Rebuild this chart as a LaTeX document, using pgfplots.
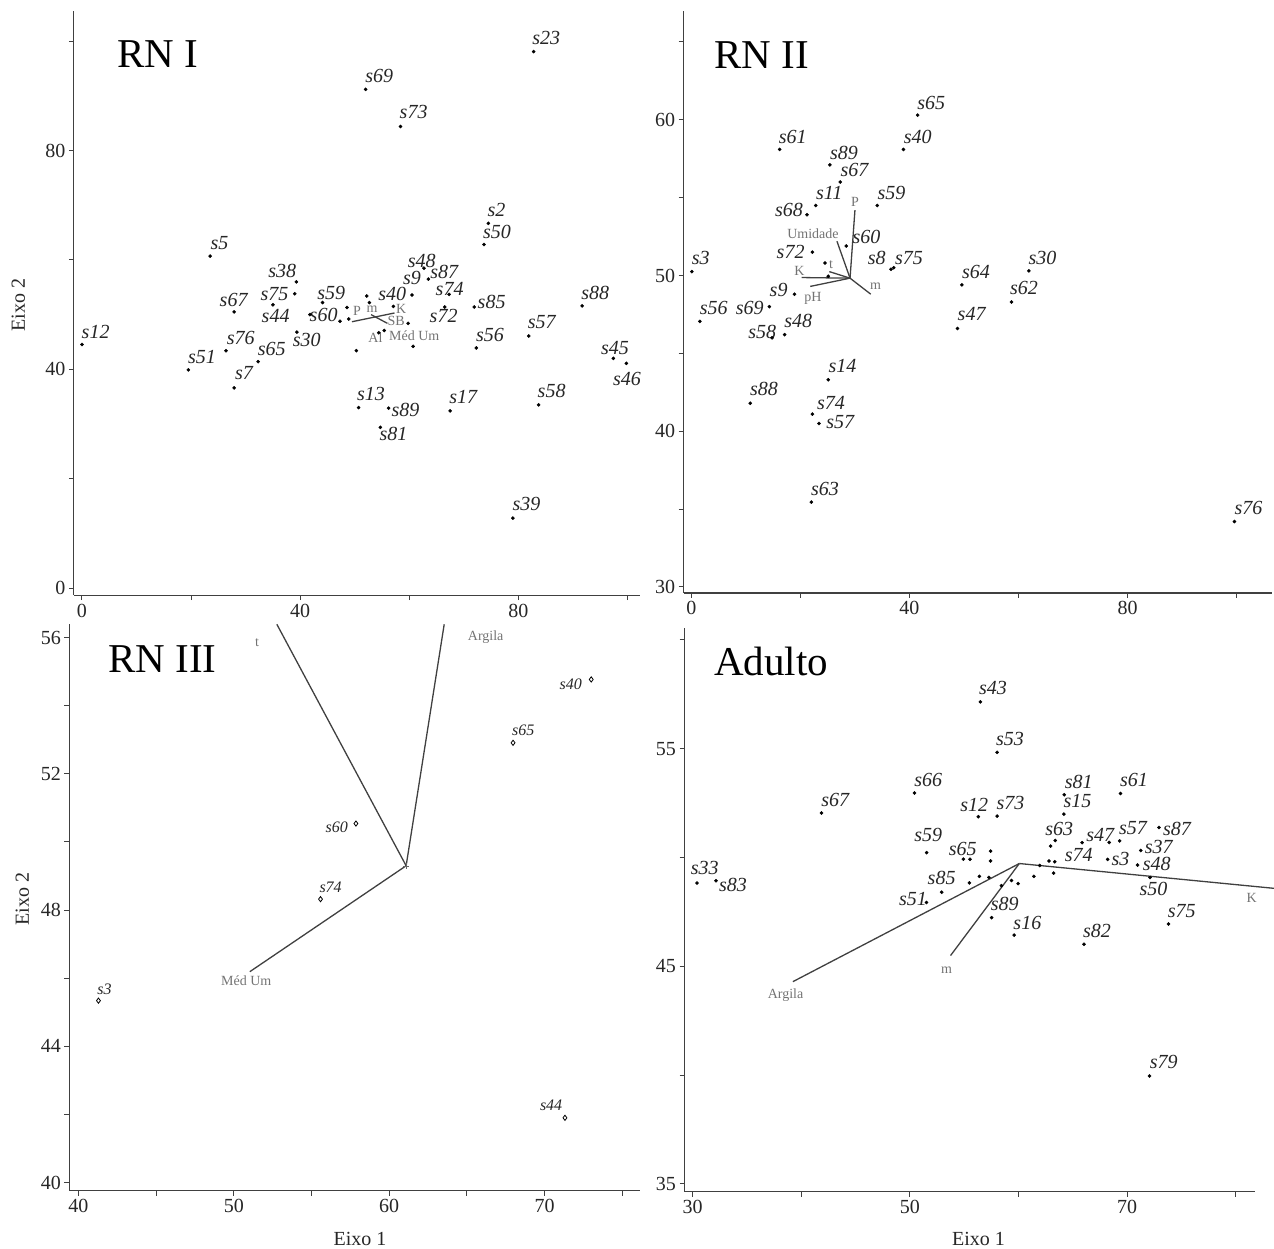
\documentclass[border=0pt]{standalone}
\usepackage{fontspec}
\setmainfont{Liberation Serif}
\usepackage{pgfplots}
\pgfplotsset{compat=1.18}
\begin{document}
\begin{tikzpicture}[x=1pt,y=1pt]
\path[use as bounding box] (0,0) rectangle (1274,1249);
\pgfplotsset{
  panel/.style={scale only axis, axis lines=left, axis line style={-, line width=1.1pt, black!75},
    enlargelimits=false, clip=false, tick align=outside, major tick length=5pt,
    tick style={line width=1pt, black!75},
    tick label style={font=\fontsize{20}{22}\selectfont, text=black!85},
    /pgf/number format/assume math mode=true, anchor=south west, scaled ticks=false},
  dots/.style={only marks, mark=*, mark size=1.6pt, black},
  vec/.style={no marks, line width=1.3pt, black!75},
}
\tikzset{
  sl/.style={font=\fontsize{20}{22}\selectfont\itshape, text=black!85, inner sep=0pt},
  sls/.style={font=\fontsize{16}{18}\selectfont\itshape, text=black!85, inner sep=0pt},
  vl/.style={font=\fontsize{14}{16}\selectfont, text=black!55, inner sep=0pt},
}

% ---------------- RN I ----------------
\begin{axis}[panel, at={(73.8pt,653.8pt)}, width=566.2pt, height=584.1pt,
  xmin=-1.5, xmax=102.3, ymin=-1.3, ymax=105.5,
  xtick={0,20,40,60,80,100}, xticklabels={0,,40,,80,},
  ytick={0,20,40,60,80,100}, yticklabels={0,,40,,80,}]
\addplot[vec] coordinates {(49.5,48.7) (57.3,50.3)};
\addplot[vec] coordinates {(53.0,50.0) (56.0,48.4)};
\addplot[dots] coordinates {
 (0.0,44.55) (82.8,98.1) (52.0,91.2) (58.4,84.4) (74.5,66.7) (73.7,62.8) (23.5,60.7)
 (39.3,56.0) (39.0,53.8) (35.0,51.8) (27.9,50.5) (41.8,50.0) (44.1,52.2) (47.3,48.8)
 (48.6,51.3) (48.9,49.2) (52.2,53.4) (52.7,52.2) (57.1,51.5) (60.5,53.6) (59.8,48.4)
 (55.4,47.1) (54.4,46.7) (50.3,43.4) (60.7,44.2) (62.7,58.5) (63.5,56.5) (67.3,53.7)
 (66.5,51.4) (71.9,51.4) (72.3,43.9) (81.9,46.1) (91.7,51.6) (97.4,42.0) (99.8,41.1)
 (39.4,46.8) (26.4,43.4) (32.3,41.4) (19.5,39.9) (27.9,36.6) (50.7,33.0) (56.2,32.9)
 (54.7,29.4) (67.5,32.4) (83.7,33.5) (79.0,12.8)};
\node[sl] at (axis cs:2.5,46.9) {s12};
\node[sl] at (axis cs:85.1,100.6) {s23};
\node[sl] at (axis cs:54.5,93.7) {s69};
\node[sl] at (axis cs:60.8,87.0) {s73};
\node[sl] at (axis cs:76.0,69.2) {s2};
\node[sl] at (axis cs:76.1,65.2) {s50};
\node[sl] at (axis cs:25.2,63.1) {s5};
\node[sl] at (axis cs:36.7,58.0) {s38};
\node[sl] at (axis cs:35.3,53.8) {s75};
\node[sl] at (axis cs:35.5,49.8) {s44};
\node[sl] at (axis cs:27.8,52.7) {s67};
\node[sl] at (axis cs:45.7,54.0) {s59};
\node[sl] at (axis cs:44.3,50.0) {s60};
\node[sl] at (axis cs:56.9,53.8) {s40};
\node[sl] at (axis cs:62.3,59.9) {s48};
\node[sl] at (axis cs:60.5,56.7) {s9};
\node[sl] at (axis cs:66.4,57.8) {s87};
\node[sl] at (axis cs:67.4,54.7) {s74};
\node[sl] at (axis cs:66.3,49.8) {s72};
\node[sl] at (axis cs:75.1,52.4) {s85};
\node[sl] at (axis cs:74.8,46.2) {s56};
\node[sl] at (axis cs:84.3,48.6) {s57};
\node[sl] at (axis cs:94.1,54.0) {s88};
\node[sl] at (axis cs:97.7,43.9) {s45};
\node[sl] at (axis cs:99.9,38.2) {s46};
\node[sl] at (axis cs:41.2,45.3) {s30};
\node[sl] at (axis cs:29.1,45.8) {s76};
\node[sl] at (axis cs:34.8,43.7) {s65};
\node[sl] at (axis cs:22.0,42.2) {s51};
\node[sl] at (axis cs:29.7,39.3) {s7};
\node[sl] at (axis cs:53.0,35.5) {s13};
\node[sl] at (axis cs:59.3,32.6) {s89};
\node[sl] at (axis cs:57.1,28.1) {s81};
\node[sl] at (axis cs:69.9,35.0) {s17};
\node[sl] at (axis cs:86.1,36.1) {s58};
\node[sl] at (axis cs:81.5,15.4) {s39};
\node[vl] at (axis cs:50.4,50.7) {P};
\node[vl] at (axis cs:53.2,50.9) {m};
\node[vl] at (axis cs:58.5,51.0) {K};
\node[vl] at (axis cs:57.6,48.9) {SB};
\node[vl] at (axis cs:53.8,45.7) {Al};
\node[vl] at (axis cs:60.9,46.1) {Méd Um};
\end{axis}

% ---------------- RN II ----------------
\begin{axis}[panel, at={(683.7pt,656pt)}, width=588.3pt, height=582pt,
  xmin=-1.41, xmax=106.5, ymin=29.61, ymax=66.99,
  xtick={0,20,40,60,80,100}, xticklabels={0,,40,,80,},
  ytick={30,35,40,45,50,55,60,65}, yticklabels={30,,40,,50,,60,}]
\addplot[vec] coordinates {(29.1,49.83) (30.0,54.2)};
\addplot[vec] coordinates {(29.1,49.83) (26.7,52.2)};
\addplot[vec] coordinates {(29.1,49.83) (20.2,49.87)};
\addplot[vec] coordinates {(29.1,49.83) (21.8,49.3)};
\addplot[vec] coordinates {(29.1,49.83) (32.9,48.8)};
\addplot[vec] coordinates {(29.1,49.83) (25.3,50.25)};
\addplot[dots] coordinates {
 (0.07,50.25) (1.55,47.05) (41.5,60.3) (38.9,58.1) (16.2,58.1) (25.4,57.1) (27.3,56.0)
 (22.8,54.5) (21.2,53.9) (34.1,54.5) (28.4,51.9) (22.2,51.5) (24.5,50.8) (25.1,49.95)
 (36.6,50.4) (37.1,50.5) (18.9,48.8) (14.3,48.0) (14.8,46.0) (17.1,46.2) (49.6,49.4)
 (61.9,50.3) (58.7,48.3) (48.8,46.6) (25.1,43.3) (10.8,41.8) (22.2,41.1) (23.4,40.5)
 (22.0,35.45) (99.6,34.2)};
\node[sl] at (axis cs:1.7,51.1) {s3};
\node[sl] at (axis cs:4.1,47.9) {s56};
\node[sl] at (axis cs:44.0,61.1) {s65};
\node[sl] at (axis cs:41.5,58.9) {s40};
\node[sl] at (axis cs:18.6,58.9) {s61};
\node[sl] at (axis cs:28.0,57.9) {s89};
\node[sl] at (axis cs:29.9,56.8) {s67};
\node[sl] at (axis cs:25.3,55.3) {s11};
\node[sl] at (axis cs:17.9,54.2) {s68};
\node[sl] at (axis cs:36.7,55.3) {s59};
\node[sl] at (axis cs:32.1,52.5) {s60};
\node[sl] at (axis cs:18.2,51.5) {s72};
\node[sl] at (axis cs:34.0,51.1) {s8};
\node[sl] at (axis cs:39.9,51.1) {s75};
\node[sl] at (axis cs:16.0,49.1) {s9};
\node[sl] at (axis cs:10.7,47.9) {s69};
\node[sl] at (axis cs:13.0,46.4) {s58};
\node[sl] at (axis cs:19.6,47.05) {s48};
\node[sl] at (axis cs:52.2,50.25) {s64};
\node[sl] at (axis cs:64.4,51.1) {s30};
\node[sl] at (axis cs:61.0,49.2) {s62};
\node[sl] at (axis cs:51.4,47.5) {s47};
\node[sl] at (axis cs:27.7,44.2) {s14};
\node[sl] at (axis cs:13.3,42.7) {s88};
\node[sl] at (axis cs:25.6,41.8) {s74};
\node[sl] at (axis cs:27.3,40.6) {s57};
\node[sl] at (axis cs:24.5,36.3) {s63};
\node[sl] at (axis cs:102.2,35.1) {s76};
\node[vl] at (axis cs:30.0,54.75) {P};
\node[vl] at (axis cs:22.3,52.7) {Umidade};
\node[vl] at (axis cs:25.6,50.7) {t};
\node[vl] at (axis cs:19.8,50.3) {K};
\node[vl] at (axis cs:33.8,49.3) {m};
\node[vl] at (axis cs:22.3,48.5) {pH};
\end{axis}

% ---------------- RN III ----------------
\begin{axis}[panel, at={(69.4pt,58.3pt)}, width=570.6pt, height=566.4pt,
  xmin=39.42, xmax=76.14, ymin=39.76, ymax=56.39,
  xtick={40,45,50,55,60,65,70,75}, xticklabels={40,,50,,60,,70,},
  ytick={40,42,44,46,48,50,52,54,56}, yticklabels={40,,44,,48,,52,,56}]
\addplot[vec] coordinates {(61.09,49.30) (52.77,56.39)};
\addplot[vec] coordinates {(61.09,49.30) (63.54,56.39)};
\addplot[vec] coordinates {(61.09,49.30) (51.03,46.19)};
\addplot[only marks, mark=+, mark size=3pt, black!60] coordinates {(61.09,49.30)};
\addplot[only marks, mark=diamond, mark size=2.6pt, line width=0.8pt, black] coordinates {
 (73.0,54.77) (67.97,52.91) (57.86,50.54) (55.58,48.32) (41.29,45.34) (71.31,41.90)};
\node[sls] at (axis cs:71.68,54.64) {s40};
\node[sls] at (axis cs:68.63,53.27) {s65};
\node[sls] at (axis cs:56.63,50.42) {s60};
\node[sls] at (axis cs:56.23,48.68) {s74};
\node[sls] at (axis cs:41.68,45.68) {s3};
\node[sls] at (axis cs:70.42,42.27) {s44};
\node[vl] at (axis cs:66.21,56.01) {Argila};
\node[vl] at (axis cs:51.5,55.85) {t};
\node[vl] at (axis cs:50.8,45.92) {Méd Um};
\end{axis}

% ---------------- Adulto ----------------
\begin{axis}[panel, at={(684.5pt,57.1pt)}, width=570.1pt, height=563.6pt,
  xmin=29.26, xmax=81.72, ymin=34.63, ymax=60.53,
  xtick={30,40,50,60,70,80}, xticklabels={30,,50,,70,},
  ytick={35,40,45,50,55,60}, yticklabels={35,,45,,55,}]
\addplot[vec] coordinates {(60.07,49.72) (39.23,44.29)};
\addplot[vec] coordinates {(60.07,49.72) (53.74,45.49)};
\addplot[vec] coordinates {(60.07,49.72) (83.5,48.58)};
\addplot[dots] coordinates {
 (56.49,57.15) (58.02,54.83) (50.43,52.96) (41.87,52.04) (64.2,52.88) (64.17,51.99)
 (69.38,52.94) (56.3,51.87) (58.03,51.9) (51.54,50.22) (54.92,49.92) (55.53,49.92)
 (57.42,50.29) (57.42,49.84) (63.37,50.78) (62.94,50.52) (65.84,50.68) (68.34,50.69)
 (69.3,50.76) (72.92,51.38) (71.25,50.32) (68.2,49.91) (70.95,49.65) (72.1,49.08)
 (62.8,49.84) (63.33,49.8) (63.22,49.28) (61.95,49.63) (61.41,49.13) (30.41,48.82)
 (32.16,48.93) (52.92,48.4) (55.48,48.83) (56.4,49.13) (57.27,49.08) (58.42,48.7)
 (59.35,48.94) (59.96,48.8) (51.52,47.93) (57.52,47.23) (59.6,46.43) (66.02,46.01)
 (73.79,46.94) (72.05,39.96)};
\node[sl] at (axis cs:57.65,57.81) {s43};
\node[sl] at (axis cs:59.21,55.45) {s53};
\node[sl] at (axis cs:51.69,53.54) {s66};
\node[sl] at (axis cs:43.13,52.64) {s67};
\node[sl] at (axis cs:65.53,53.46) {s81};
\node[sl] at (axis cs:65.42,52.6) {s15};
\node[sl] at (axis cs:70.63,53.54) {s61};
\node[sl] at (axis cs:55.93,52.42) {s12};
\node[sl] at (axis cs:59.25,52.49) {s73};
\node[sl] at (axis cs:51.69,51.01) {s59};
\node[sl] at (axis cs:54.86,50.41) {s65};
\node[sl] at (axis cs:63.75,51.31) {s63};
\node[sl] at (axis cs:67.51,51.05) {s47};
\node[sl] at (axis cs:70.52,51.37) {s57};
\node[sl] at (axis cs:74.58,51.29) {s87};
\node[sl] at (axis cs:72.9,50.47) {s37};
\node[sl] at (axis cs:65.53,50.13) {s74};
\node[sl] at (axis cs:69.37,49.91) {s3};
\node[sl] at (axis cs:72.72,49.72) {s48};
\node[sl] at (axis cs:72.42,48.54) {s50};
\node[sl] at (axis cs:31.12,49.53) {s33};
\node[sl] at (axis cs:33.72,48.73) {s83};
\node[sl] at (axis cs:52.92,49.06) {s85};
\node[sl] at (axis cs:50.28,48.11) {s51};
\node[sl] at (axis cs:58.72,47.85) {s89};
\node[sl] at (axis cs:60.81,47.0) {s16};
\node[sl] at (axis cs:67.21,46.61) {s82};
\node[sl] at (axis cs:75.02,47.55) {s75};
\node[sl] at (axis cs:73.35,40.62) {s79};
\node[vl] at (axis cs:38.56,43.69) {Argila};
\node[vl] at (axis cs:53.37,44.83) {m};
\node[vl] at (axis cs:81.46,48.14) {K};
\end{axis}

% titles and axis names
\node[anchor=west, inner sep=0pt, font=\fontsize{41}{45}\selectfont] at (116.8pt,1194.5pt) {RN I};
\node[anchor=west, inner sep=0pt, font=\fontsize{41}{45}\selectfont] at (714pt,1193.6pt) {RN II};
\node[anchor=west, inner sep=0pt, font=\fontsize{41}{45}\selectfont] at (108.2pt,590.1pt) {RN III};
\node[anchor=west, inner sep=0pt, font=\fontsize{41}{45}\selectfont] at (714pt,588pt) {Adulto};
\node[rotate=90, inner sep=0pt, font=\fontsize{20}{22}\selectfont, text=black!85] at (18.4pt,944pt) {Eixo 2};
\node[rotate=90, inner sep=0pt, font=\fontsize{20}{22}\selectfont, text=black!85] at (22.4pt,350pt) {Eixo 2};
\node[inner sep=0pt, font=\fontsize{20}{22}\selectfont, text=black!85] at (360pt,10pt) {Eixo 1};
\node[inner sep=0pt, font=\fontsize{20}{22}\selectfont, text=black!85] at (978.5pt,10pt) {Eixo 1};
\end{tikzpicture}
\end{document}
